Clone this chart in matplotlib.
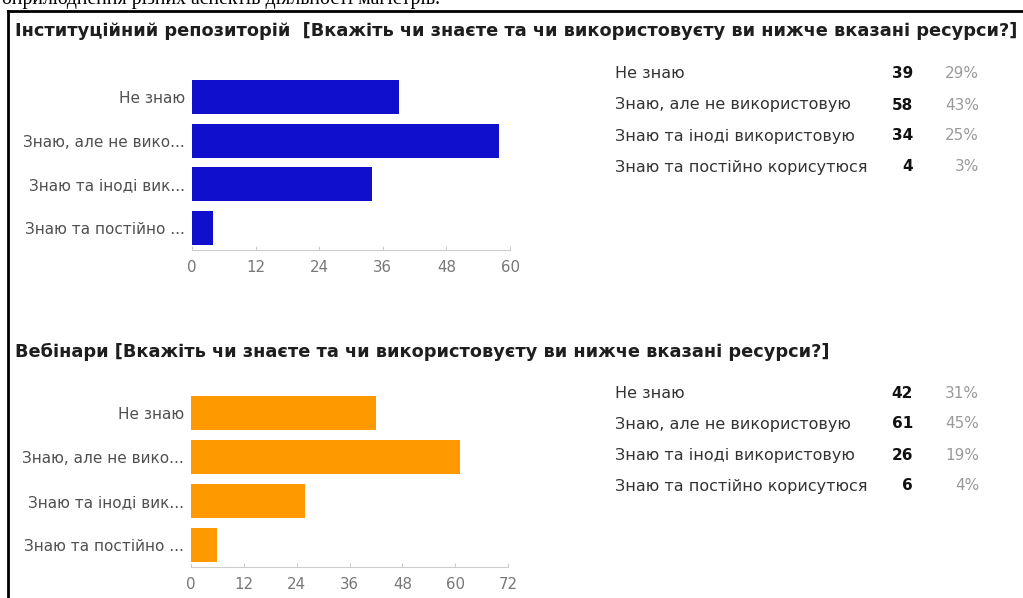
import matplotlib.pyplot as plt
from matplotlib.lines import Line2D

plt.rcParams['font.family'] = ['DejaVu Sans']

W, H = 1023, 598

# data
answers = ["Не знаю", "Знаю, але не використовую", "Знаю та іноді використовую", "Знаю та постійно корисутюся"]
short_labels = ["Не знаю", "Знаю, але не вико...", "Знаю та іноді вик...", "Знаю та постійно ..."]

repo_title = "Інституційний репозиторій  [Вкажіть чи знаєте та чи використовуєту ви нижче вказані ресурси?]"
repo_counts = [39, 58, 34, 4]
repo_pct = ["29%", "43%", "25%", "3%"]
repo_ticks = [0, 12, 24, 36, 48, 60]

web_title = "Вебінари [Вкажіть чи знаєте та чи використовуєту ви нижче вказані ресурси?]"
web_counts = [42, 61, 26, 6]
web_pct = ["31%", "45%", "19%", "4%"]
web_ticks = [0, 12, 24, 36, 48, 60, 72]

header_text = "оприлюднення різних аспектів діяльності магістрів."


def fx(px):
    return px / W


def fy(py):
    return 1 - py / H


def fit_width(fig, t, target_px):
    # shrink/grow a text until it is as wide as in the reference
    r = fig.canvas.get_renderer()
    for _ in range(3):
        w = t.get_window_extent(renderer=r).width
        t.set_fontsize(t.get_fontsize() * target_px / w)


def draw_block(fig, title, counts, pct, ticks, color, title_y, ax_box, row_ys):
    left, top, right, bottom = ax_box
    ax = fig.add_axes([fx(left), fy(bottom), fx(right) - fx(left), fy(top) - fy(bottom)])
    pos = list(range(len(counts)))
    ax.barh(pos, counts, height=0.78, color=color)
    ax.set_ylim(len(counts) - 0.5, -0.5)
    ax.set_xlim(ticks[0], ticks[-1])
    ax.set_yticks(pos)
    ax.set_yticklabels(short_labels, fontsize=11, color="#505050")
    ax.set_xticks(ticks)
    ax.set_xticklabels([str(t) for t in ticks], fontsize=10.8, color="#777777")
    ax.tick_params(axis="y", length=0, pad=5)
    ax.tick_params(axis="x", length=3, direction="in", color="#cccccc", pad=7)
    for s in ["top", "right", "left"]:
        ax.spines[s].set_visible(False)
    ax.spines["bottom"].set_color("#cccccc")

    t = fig.text(fx(15), fy(title_y), title, fontsize=12, fontweight="bold",
                 color="#1e1e1e", va="center", ha="left")

    for i, name in enumerate(answers):
        y = fy(row_ys[i])
        fig.text(fx(615), y, name, fontsize=11.5, color="#333333", va="center", ha="left")
        fig.text(fx(913), y, str(counts[i]), fontsize=11, fontweight="bold",
                 color="#111111", va="center", ha="right")
        fig.text(fx(979), y, pct[i], fontsize=11, color="#9a9a9a", va="center", ha="right")
    return t


fig = plt.figure(figsize=(W / 100, H / 100), dpi=100)
fig.patch.set_facecolor("white")

# cut-off line of text above the frame
fig.text(fx(2), fy(4), header_text, fontsize=14.2, family="Liberation Serif",
         color="black", va="baseline", ha="left")

# black frame (continues beyond the picture)
fig.add_artist(Line2D([fx(8), fx(W + 5)], [fy(10.5), fy(10.5)], color="black", lw=2))
fig.add_artist(Line2D([fx(8), fx(8)], [fy(10.5), fy(H + 5)], color="black", lw=2))

t1 = draw_block(fig, repo_title, repo_counts, repo_pct, repo_ticks, "#1010cc",
                31, (192, 75, 510, 250), [74, 105, 136, 167])
t2 = draw_block(fig, web_title, web_counts, web_pct, web_ticks, "#ff9900",
                352, (191, 391, 508, 567), [393, 424, 455, 486])
fit_width(fig, t1, 1003)
t2.set_fontsize(t1.get_fontsize())

fig.savefig("out.png", dpi=100, facecolor="white")
